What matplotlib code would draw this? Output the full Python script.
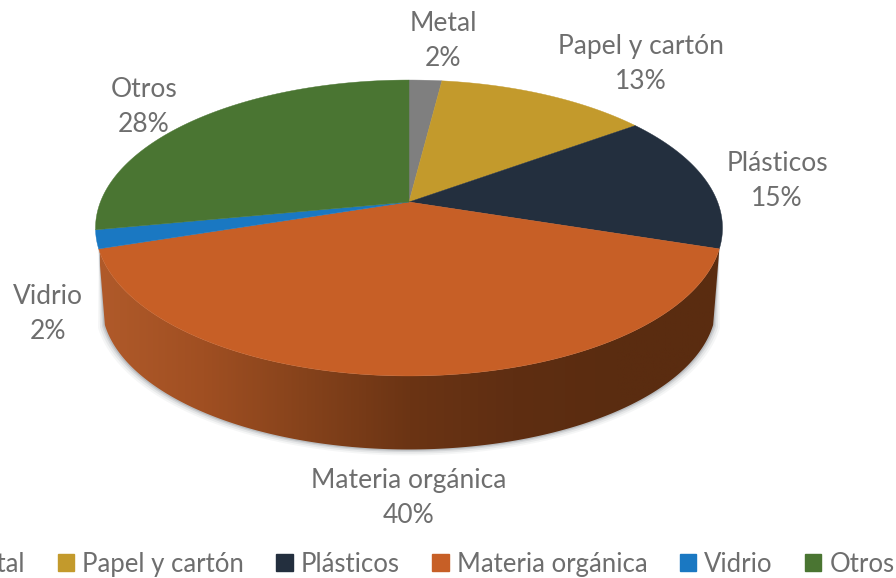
import numpy as np
from matplotlib import pyplot as plt
from matplotlib.colors import LinearSegmentedColormap
from matplotlib.patches import Patch, Polygon

#Data
categories = ["Metal", "Papel y cartón", "Plásticos", "Materia orgánica", "Vidrio", "Otros"]
percent = [2, 13, 15, 40, 2, 28]

#Styles
colors = ["#7f7f7f", "#c39a2c", "#232f3e", "#c75f26", "#1a78c2", "#4a7532"]
label_pos = [(443, 41), (641, 64), (777, 181), (409, 498), (48, 314), (144, 107)]
text_gray = "#6e6e6e"

plt.rcParams['font.family'] = ['Lato', 'DejaVu Sans']

fig = plt.figure(figsize=(8.96, 5.78), dpi=100)
ax = fig.add_axes([0, 0, 1, 1])
ax.set_xlim(0, 896)
ax.set_ylim(578, 0)
ax.axis('off')

#Tilted disc: the circle is seen in perspective so the centre sits above the middle
k = 0.1757
cx, cy = 409, 202


def disc(angle, scale=1.0, drop=0.0):
    # angle is degrees clockwise from 12 o'clock
    a = np.radians(angle)
    u = np.sin(a)
    v = np.cos(a)
    w = 1 + k * v
    return cx + scale * 308.6 * u / w, cy + drop - scale * 143.4 * v / w


edges = np.cumsum([0] + percent) / sum(percent) * 360
start, end = edges[3], edges[4]

#Shadow under the side wall
ring = np.linspace(start, end, 200)
tx, ty = disc(ring)
for grow, alpha in [(7, 0.05), (5, 0.08), (3, 0.12), (1.5, 0.18)]:
    sx, sy = disc(ring, 0.98 + grow / 320, 77)
    ax.fill(np.r_[sx, tx[::-1]], np.r_[sy + grow * 0.3, ty[::-1]],
            color="#4a5058", alpha=alpha, lw=0, zorder=1)

#Side wall of the front slice, shaded from left to right
wall = LinearSegmentedColormap.from_list(
    "wall", ["#b05a2a", "#a04f22", "#85421b", "#6b3414", "#5f2e12", "#5a2c10", "#5a2c10"])
bx, by = disc(ring, 0.98, 77)
wall_shape = Polygon(np.c_[np.r_[bx, tx[::-1]], np.r_[by, ty[::-1]]], closed=True,
                     transform=ax.transData, fc='none', ec='none')
ax.add_patch(wall_shape)
im = ax.imshow(np.linspace(0, 1, 256).reshape(1, -1), cmap=wall, aspect='auto',
               extent=(100, 720, 460, 240), zorder=2)
im.set_clip_path(wall_shape)
ax.set_xlim(0, 896)
ax.set_ylim(578, 0)

#Top of the pie
for i in range(len(percent)):
    angles = np.linspace(edges[i], edges[i + 1], 120)
    x, y = disc(angles)
    ax.fill(np.r_[cx, x], np.r_[cy, y], color=colors[i], lw=0.3, zorder=3)

#Labels
for i in range(len(percent)):
    ax.text(label_pos[i][0], label_pos[i][1], f"{categories[i]}\n{percent[i]}%",
            ha='center', va='center', fontsize=19, color=text_gray,
            linespacing=1.5, zorder=4)

#Legend runs off the left edge of the picture
handles = [Patch(color=c) for c in colors]
fig.legend(handles, categories, ncols=6, loc='center left',
           bbox_to_anchor=(-0.072, 0.024), frameon=False, fontsize=18.5,
           labelcolor=text_gray, handlelength=0.64, handleheight=0.64,
           handletextpad=0.31, columnspacing=1.26, borderpad=0, borderaxespad=0)

fig.savefig("out.png", dpi=100)
